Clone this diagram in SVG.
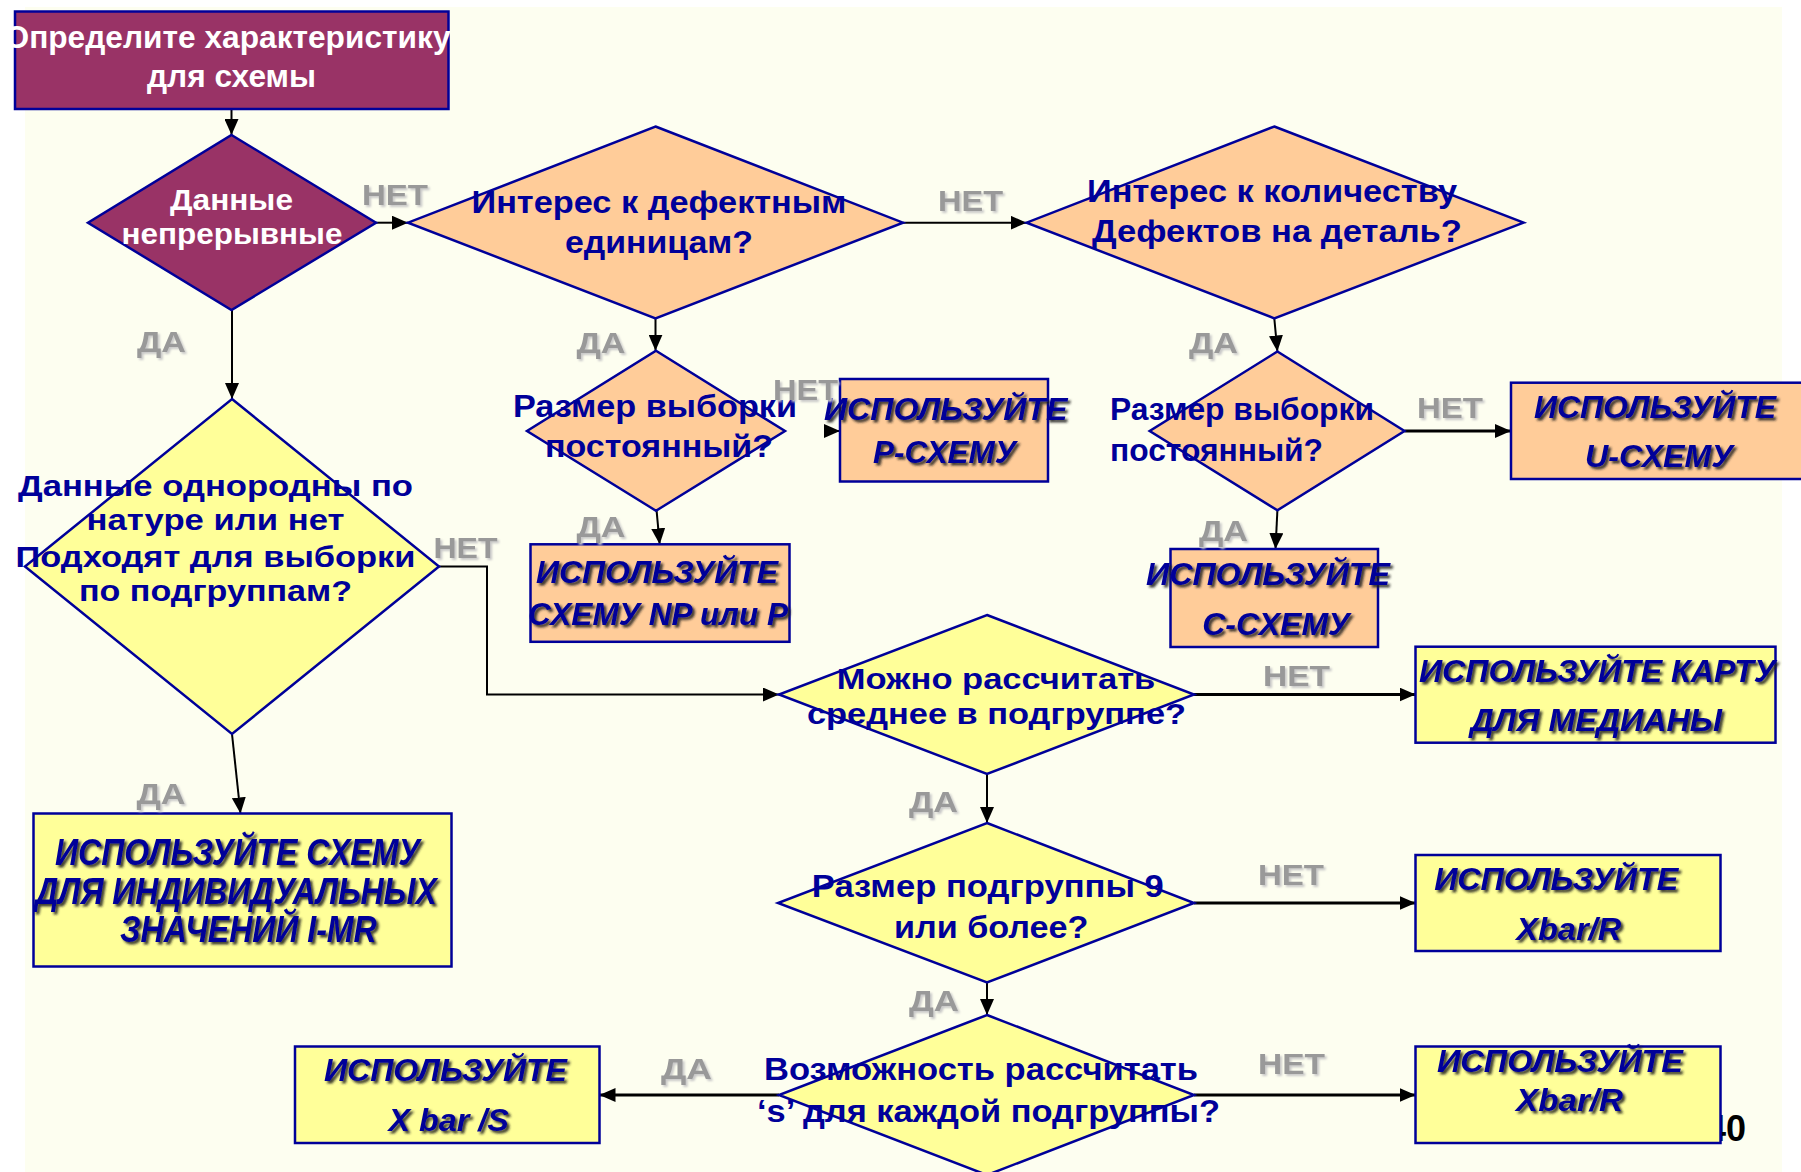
<svg xmlns="http://www.w3.org/2000/svg" width="1801" height="1172" viewBox="0 0 1801 1172">
<defs>
<style>
.q{font-family:'Liberation Sans',Arial,sans-serif;font-weight:bold;font-size:31px;fill:#000099;text-anchor:middle}
.q2{font-size:29.5px}
.w{fill:#ffffff}
.b{font-family:'Liberation Sans',Arial,sans-serif;font-weight:bold;font-style:italic;font-size:32px;fill:#000099;text-anchor:middle;filter:url(#tsh)}
.lbl{font-family:'Liberation Sans',Arial,sans-serif;font-weight:bold;font-size:30px;fill:#999999;filter:url(#lsh)}
.sh{stroke:#000099;stroke-width:2.5}
.pu{fill:#993366}
.pe{fill:#FFCC99}
.ye{fill:#FFFF99}
.c{fill:none;stroke:#000;stroke-width:2;marker-end:url(#ah)}
.c3{fill:none;stroke:#000;stroke-width:3;marker-end:url(#ah)}
</style>
<filter id="tsh" x="-10%" y="-30%" width="120%" height="160%">
<feDropShadow dx="2.5" dy="2.5" stdDeviation="0.8" flood-color="#1a1a1a" flood-opacity="0.85"/>
</filter>
<filter id="lsh" x="-10%" y="-30%" width="130%" height="160%">
<feDropShadow dx="2" dy="2" stdDeviation="0.8" flood-color="#c8c8c8" flood-opacity="1"/>
</filter>
<marker id="ah" markerUnits="userSpaceOnUse" markerWidth="16" markerHeight="14" refX="16" refY="7" orient="auto">
<path d="M0,0 L16,7 L0,14 z" fill="#000"/>
</marker>
</defs>
<rect x="0" y="0" width="1801" height="1172" fill="#ffffff"/>
<rect x="25" y="7" width="1757" height="1165" fill="#FDFEF0"/>
<text x="1746" y="1141" font-family="'Liberation Sans',Arial,sans-serif" font-weight="bold" font-size="36" text-anchor="end" fill="#000">40</text>

<g id="connectors">
<path class="c" d="M231.5,109 V135"/>
<path class="c" d="M376,222.7 H408"/>
<path class="c" d="M903,222.7 H1026.6"/>
<path class="c" d="M655.5,318.3 V350.7"/>
<path class="c" d="M1274.3,318.3 L1277.4,351.5"/>
<path class="c" d="M824,431 H840"/>
<path class="c" d="M656.6,510.7 L659.7,544.3"/>
<path class="c3" d="M1404.5,431 H1511"/>
<path class="c" d="M1277.4,510.3 L1275.5,549"/>
<path class="c" d="M232,310 V399"/>
<path class="c" d="M439,566.5 H487 V694.5 H779"/>
<path class="c" d="M232,734 L240.5,813.5"/>
<path class="c3" d="M1194,694.5 H1415.5"/>
<path class="c" d="M987,774 V823"/>
<path class="c3" d="M1194,903 H1415.5"/>
<path class="c" d="M987,982.5 V1015"/>
<path class="c3" d="M1194,1095 H1415.5"/>
<path class="c3" d="M779,1095 H599.5"/>
</g>

<g id="start">
<rect class="sh pu" x="15" y="11.5" width="433.5" height="97.5"/>
<text class="q w" x="227.5" y="47.5" textLength="446" lengthAdjust="spacingAndGlyphs">Определите характеристику</text>
<text class="q w" x="231.5" y="87" textLength="169" lengthAdjust="spacingAndGlyphs">для схемы</text>
</g>

<g id="d-continuous">
<polygon class="sh pu" points="231.5,135 376,222.7 231.5,310 88,222.7"/>
<text class="q q2 w" x="231.5" y="210" textLength="123" lengthAdjust="spacingAndGlyphs">Данные</text>
<text class="q q2 w" x="232" y="244" textLength="221" lengthAdjust="spacingAndGlyphs">непрерывные</text>
</g>

<g id="d-defective-units">
<polygon class="sh pe" points="655.5,126.5 903,222.7 655.5,318.3 408,222.7"/>
<text class="q" x="659" y="213" textLength="375" lengthAdjust="spacingAndGlyphs">Интерес к дефектным</text>
<text class="q" x="659" y="253" textLength="188" lengthAdjust="spacingAndGlyphs">единицам?</text>
</g>

<g id="d-defects-per-part">
<polygon class="sh pe" points="1274.3,126.5 1523.6,222.7 1274.3,318.3 1026.6,222.7"/>
<text class="q" x="1272" y="201.5" textLength="370" lengthAdjust="spacingAndGlyphs">Интерес к количеству</text>
<text class="q" x="1277" y="242" textLength="370" lengthAdjust="spacingAndGlyphs">Дефектов на деталь?</text>
</g>

<g id="d-sample-size-1">
<polygon class="sh pe" points="656,350.7 785,431 656,510.7 527,431"/>
<text class="q" x="655" y="417" textLength="284" lengthAdjust="spacingAndGlyphs">Размер выборки</text>
<text class="q" x="659" y="457" textLength="228" lengthAdjust="spacingAndGlyphs">постоянный?</text>
</g>

<g id="d-sample-size-2">
<polygon class="sh pe" points="1277.4,351.5 1404.5,431 1277.4,510.3 1149.7,431"/>
<text class="q" x="1110" y="420" textLength="264" lengthAdjust="spacingAndGlyphs" style="text-anchor:start">Размер выборки</text>
<text class="q" x="1110" y="461" textLength="213" lengthAdjust="spacingAndGlyphs" style="text-anchor:start">постоянный?</text>
</g>

<g id="box-p">
<rect class="sh pe" x="840" y="379" width="208" height="102.5"/>
<text class="b" x="945.7" y="420" textLength="243.5" lengthAdjust="spacingAndGlyphs">ИСПОЛЬЗУЙТЕ</text>
<text class="b" x="944.5" y="463" textLength="143" lengthAdjust="spacingAndGlyphs">P-СХЕМУ</text>
</g>

<g id="box-np">
<rect class="sh pe" x="530.5" y="544.3" width="259" height="97.5"/>
<text class="b" x="657" y="583" textLength="242" lengthAdjust="spacingAndGlyphs">ИСПОЛЬЗУЙТЕ</text>
<text class="b" x="658" y="625" textLength="260" lengthAdjust="spacingAndGlyphs">СХЕМУ NP или P</text>
</g>

<g id="box-u">
<rect class="sh pe" x="1511" y="382.7" width="300" height="96.3"/>
<text class="b" x="1655" y="418" textLength="242" lengthAdjust="spacingAndGlyphs">ИСПОЛЬЗУЙТЕ</text>
<text class="b" x="1659" y="467" textLength="148" lengthAdjust="spacingAndGlyphs">U-СХЕМУ</text>
</g>

<g id="box-c">
<rect class="sh pe" x="1170.5" y="549" width="207.5" height="98"/>
<text class="b" x="1268" y="584.5" textLength="244" lengthAdjust="spacingAndGlyphs">ИСПОЛЬЗУЙТЕ</text>
<text class="b" x="1276" y="635" textLength="147.5" lengthAdjust="spacingAndGlyphs">С-СХЕМУ</text>
</g>

<g id="d-homogeneous">
<polygon class="sh ye" points="232,399 439,566.5 232,734 25,566.5"/>
<text class="q q2" x="215.5" y="496" textLength="395" lengthAdjust="spacingAndGlyphs">Данные однородны по</text>
<text class="q q2" x="215.5" y="530" textLength="258" lengthAdjust="spacingAndGlyphs">натуре или нет</text>
<text class="q q2" x="215.5" y="567" textLength="400" lengthAdjust="spacingAndGlyphs">Подходят для выборки</text>
<text class="q q2" x="215.5" y="601" textLength="273" lengthAdjust="spacingAndGlyphs">по подгруппам?</text>
</g>

<g id="box-imr">
<rect class="sh ye" x="33.5" y="813.5" width="418" height="153"/>
<text class="b" x="237.5" y="865" style="font-size:36px" textLength="365" lengthAdjust="spacingAndGlyphs">ИСПОЛЬЗУЙТЕ СХЕМУ</text>
<text class="b" x="236" y="904" style="font-size:36px" textLength="401.7" lengthAdjust="spacingAndGlyphs">ДЛЯ ИНДИВИДУАЛЬНЫХ</text>
<text class="b" x="248.3" y="942" style="font-size:36px" textLength="256.7" lengthAdjust="spacingAndGlyphs">ЗНАЧЕНИЙ I-MR</text>
</g>

<g id="d-mean">
<polygon class="sh ye" points="987,615 1194,694.5 987,774 779,694.5"/>
<text class="q q2" x="996" y="689" textLength="318.5" lengthAdjust="spacingAndGlyphs">Можно рассчитать</text>
<text class="q q2" x="996.5" y="723.5" textLength="379" lengthAdjust="spacingAndGlyphs">среднее в подгруппе?</text>
</g>

<g id="box-median">
<rect class="sh ye" x="1415.5" y="646.7" width="360" height="96"/>
<text class="b" x="1597.3" y="682" textLength="356.6" lengthAdjust="spacingAndGlyphs">ИСПОЛЬЗУЙТЕ КАРТУ</text>
<text class="b" x="1596.3" y="731" textLength="251.4" lengthAdjust="spacingAndGlyphs">ДЛЯ МЕДИАНЫ</text>
</g>

<g id="d-subgroup-size">
<polygon class="sh ye" points="987,823 1194,903 987,982.5 778,903"/>
<text class="q" x="987.8" y="897" textLength="352" lengthAdjust="spacingAndGlyphs">Размер подгруппы 9</text>
<text class="q" x="991.2" y="938" textLength="194.5" lengthAdjust="spacingAndGlyphs">или более?</text>
</g>

<g id="box-xbar-r-1">
<rect class="sh ye" x="1415.5" y="855" width="305" height="96"/>
<text class="b" x="1556.2" y="890" textLength="244" lengthAdjust="spacingAndGlyphs">ИСПОЛЬЗУЙТЕ</text>
<text class="b" x="1568.7" y="940" textLength="105" lengthAdjust="spacingAndGlyphs">Xbar/R</text>
</g>

<g id="d-s-calc">
<polygon class="sh ye" points="987,1015 1194,1095 987,1175 779,1095"/>
<text class="q" x="981" y="1080" textLength="434" lengthAdjust="spacingAndGlyphs">Возможность рассчитать</text>
<text class="q" x="988.5" y="1122" textLength="463" lengthAdjust="spacingAndGlyphs">‘s’ для каждой подгруппы?</text>
</g>

<g id="box-xbar-s">
<rect class="sh ye" x="295" y="1046.5" width="304.5" height="96.5"/>
<text class="b" x="445.5" y="1081" textLength="243" lengthAdjust="spacingAndGlyphs">ИСПОЛЬЗУЙТЕ</text>
<text class="b" x="448.7" y="1131" textLength="120.5" lengthAdjust="spacingAndGlyphs">X bar /S</text>
</g>

<g id="box-xbar-r-2">
<rect class="sh ye" x="1415.5" y="1046.5" width="305" height="96.5"/>
<text class="b" x="1560" y="1071.5" textLength="246" lengthAdjust="spacingAndGlyphs">ИСПОЛЬЗУЙТЕ</text>
<text class="b" x="1569.5" y="1111" textLength="107" lengthAdjust="spacingAndGlyphs">Xbar/R</text>
</g>

<g id="edge-labels">
<text class="lbl" x="362" y="205" textLength="66" lengthAdjust="spacingAndGlyphs">НЕТ</text>
<text class="lbl" x="938" y="211" textLength="65" lengthAdjust="spacingAndGlyphs">НЕТ</text>
<text class="lbl" x="137" y="352" textLength="49" lengthAdjust="spacingAndGlyphs">ДА</text>
<text class="lbl" x="576.5" y="353" textLength="49" lengthAdjust="spacingAndGlyphs">ДА</text>
<text class="lbl" x="1189" y="353" textLength="49" lengthAdjust="spacingAndGlyphs">ДА</text>
<text class="lbl" x="773" y="400" textLength="65" lengthAdjust="spacingAndGlyphs">НЕТ</text>
<text class="lbl" x="576.5" y="537" textLength="49" lengthAdjust="spacingAndGlyphs">ДА</text>
<text class="lbl" x="1417" y="418" textLength="66" lengthAdjust="spacingAndGlyphs">НЕТ</text>
<text class="lbl" x="1199" y="541" textLength="49" lengthAdjust="spacingAndGlyphs">ДА</text>
<text class="lbl" x="433.5" y="558" textLength="64" lengthAdjust="spacingAndGlyphs">НЕТ</text>
<text class="lbl" x="136.5" y="804" textLength="49" lengthAdjust="spacingAndGlyphs">ДА</text>
<text class="lbl" x="1263" y="686" textLength="67" lengthAdjust="spacingAndGlyphs">НЕТ</text>
<text class="lbl" x="909" y="812" textLength="49" lengthAdjust="spacingAndGlyphs">ДА</text>
<text class="lbl" x="1258" y="885" textLength="66" lengthAdjust="spacingAndGlyphs">НЕТ</text>
<text class="lbl" x="909" y="1011" textLength="50" lengthAdjust="spacingAndGlyphs">ДА</text>
<text class="lbl" x="1258" y="1074" textLength="67" lengthAdjust="spacingAndGlyphs">НЕТ</text>
<text class="lbl" x="661" y="1078.5" textLength="51" lengthAdjust="spacingAndGlyphs">ДА</text>
</g>
</svg>
